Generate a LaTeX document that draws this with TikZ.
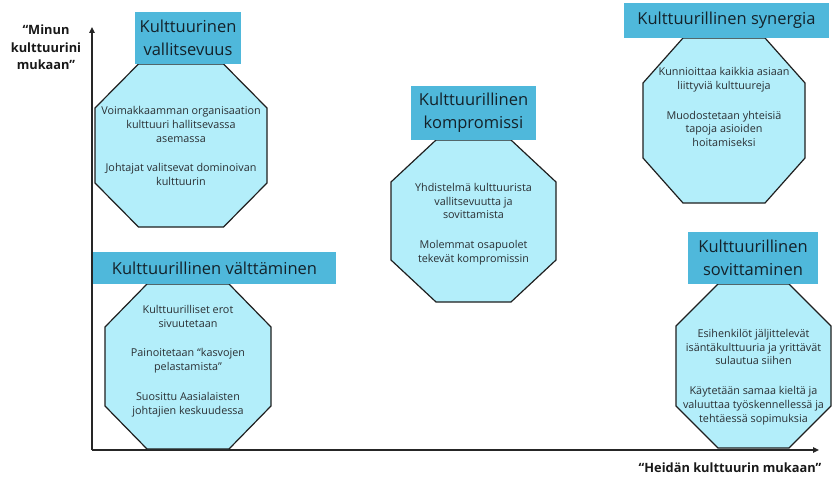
\documentclass[tikz,border=0pt]{standalone}
\usepackage{fontspec}
\setmainfont{Open Sans}
\usetikzlibrary{arrows.meta}

\definecolor{bannerblue}{HTML}{4FB8DB}
\definecolor{octcyan}{HTML}{B3EEFA}
\definecolor{inktext}{HTML}{2A2F33}
\definecolor{headink}{HTML}{14222A}

\tikzset{
  banner/.style={fill=bannerblue, inner sep=0pt, align=center,
    font=\fontsize{16.5}{23}\selectfont, text=headink},
  octo/.style={draw=black!88, line width=1.2pt, fill=octcyan, line join=miter},
  octtext/.style={align=center, inner sep=0pt,
    font=\fontsize{10.8}{13.8}\selectfont, text=inktext},
  axisline/.style={draw=black!85, line width=1.4pt,
    -{Triangle[length=6pt,width=5.5pt]}},
  axislabel/.style={align=center, inner sep=0pt,
    font=\bfseries\fontsize{12.8}{17.5}\selectfont, text=black!90}
}

% octagon: centre x, centre y, half width, half height, chamfer x, chamfer y
\newcommand\octagonat[6]{%
  \path[octo] (#1-#3+#5,#2-#4) -- (#1+#3-#5,#2-#4) -- (#1+#3,#2-#4+#6)
    -- (#1+#3,#2+#4-#6) -- (#1+#3-#5,#2+#4) -- (#1-#3+#5,#2+#4)
    -- (#1-#3,#2+#4-#6) -- (#1-#3,#2-#4+#6) -- cycle;}

\newcommand\pgap{\\[16pt]}

\begin{document}
\begin{tikzpicture}[x=1pt,y=-1pt]
  \useasboundingbox[fill=white] (0,0) rectangle (832,481);

  % axes
  \coordinate (O) at (92,450);
  \coordinate (ytip) at (92,27);
  \coordinate (xtip) at (819,450);
  \draw[axisline] (O) -- (ytip);
  \draw[axisline] (O) -- (xtip);

  % octagon bodies
  \octagonat{181}{145.5}{86}{81.5}{43.5}{44}
  \octagonat{188}{366.5}{83}{82.5}{42}{43}
  \octagonat{473.5}{221}{82.5}{81}{45}{42}
  \octagonat{724}{120.5}{81}{82.5}{40}{45}
  \octagonat{753.5}{366}{77.5}{82}{42}{42}

  % headings
  \node[banner, minimum width=106, minimum height=52] (b1) at (188,38)
    {Kulttuurinen\\vallitsevuus};
  \node[banner, minimum width=243, minimum height=32] (b2) at (214.5,268)
    {Kulttuurillinen välttäminen};
  \node[banner, minimum width=125, minimum height=54] (b3) at (473.5,113)
    {Kulttuurillinen\\kompromissi};
  \node[banner, minimum width=205, minimum height=35] (b4) at (726.5,20.5)
    {Kulttuurillinen synergia};
  \node[banner, minimum width=130, minimum height=52] (b5) at (753,258)
    {Kulttuurillinen\\sovittaminen};

  % octagon texts
  \node[octtext] (t1) at (181,146)
    {Voimakkaamman organisaation\\kulttuuri hallitsevassa\\asemassa\pgap
     Johtajat valitsevat dominoivan\\kulttuurin};
  \node[octtext] (t2) at (188,361)
    {Kulttuurilliset erot\\sivuutetaan\pgap
     Painoitetaan “kasvojen\\pelastamista”\pgap
     Suosittu Aasialaisten\\johtajien keskuudessa};
  \node[octtext] (t3) at (473.5,224)
    {Yhdistelmä kulttuurista\\vallitsevuutta ja\\sovittamista\pgap
     Molemmat osapuolet\\tekevät kompromissin};
  \node[octtext] (t4) at (724,107)
    {Kunnioittaa kaikkia asiaan\\liittyviä kulttuureja\pgap
     Muodostetaan yhteisiä\\tapoja asioiden\\hoitamiseksi};
  \node[octtext] (t5) at (753.5,377)
    {Esihenkilöt jäljittelevät\\isäntäkulttuuria ja yrittävät\\sulautua siihen\pgap
     Käytetään samaa kieltä ja\\valuuttaa työskennellessä ja\\tehtäessä sopimuksia};

  % axis labels
  \node[axislabel] (ylab) at (46,47.5) {“Minun\\kulttuurini\\mukaan”};
  \node[axislabel] (xlab) at (730,468) {“Heidän kulttuurin mukaan”};
\end{tikzpicture}
\end{document}
